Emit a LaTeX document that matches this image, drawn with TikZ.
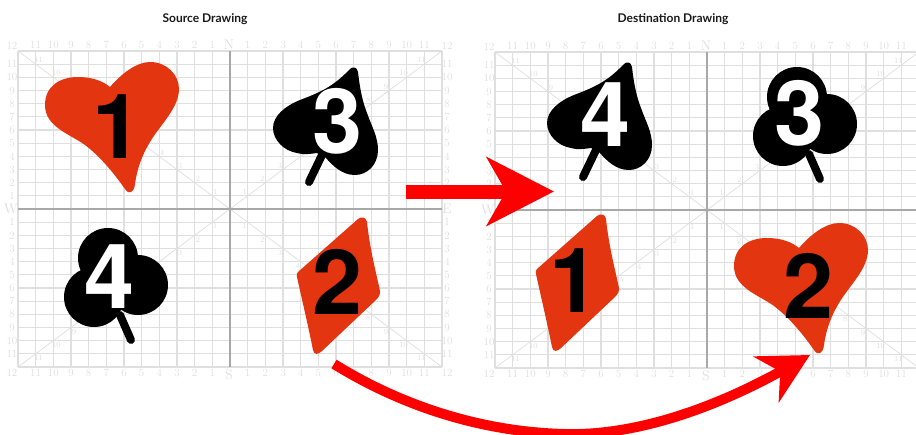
\documentclass[tikz,border=0pt]{standalone}
\usepackage{fontspec}
\usepackage{tikz}
\usetikzlibrary{arrows.meta}
\newfontfamily\digitfont{TeX Gyre Heros}
\newfontfamily\titlefont{Lato}

\definecolor{suitred}{HTML}{E23510}
\definecolor{gridgray}{HTML}{DFDFDF}
\definecolor{axisgray}{HTML}{A8A8A8}
\definecolor{labelgray}{HTML}{DEDEDE}

% Suit outlines, in the coordinates of the source drawing
\newcommand{\heartpath}{(110,87) .. controls (122,73) and (137,62) .. (150,62) .. controls (167,62) and (179,75) .. (179,89) .. controls (179,108) and (160,125) .. (150,142) .. controls (141,157) and (137,170) .. (135,184) .. controls (134,193) and (129,195) .. (125,189) .. controls (115,175) and (102,158) .. (85,145) .. controls (70,134) and (45,127) .. (45,105) .. controls (45,86) and (60,77) .. (78,77) .. controls (92,77) and (103,81) .. (110,87) -- cycle}
\newcommand{\spadepath}{(350,69) .. controls (353,66) and (357,67) .. (358,72) .. controls (360,90) and (363,103) .. (367,113) .. controls (372,127) and (378,137) .. (378,150) .. controls (378,165) and (367,175) .. (355,175) .. controls (342,175) and (333,166) .. (325,157) -- (317,153) .. controls (310,154) and (303,155) .. (297,153) .. controls (284,151) and (273,140) .. (273,128) .. controls (273,116) and (285,106) .. (300,100) .. controls (318,93) and (332,88) .. (350,69) -- cycle}
\newcommand{\diamondpath}{(298,272) -- (358,219) .. controls (362,216) and (366,217) .. (367,222) .. controls (370,250) and (376,272) .. (380,291) .. controls (380,295) and (379,297) .. (377,299) -- (322,351) .. controls (318,355) and (314,355) .. (313,350) .. controls (308,325) and (302,300) .. (297,277) .. controls (296,275) and (297,273) .. (298,272) -- cycle}

% One compass grid with its scales; the lists are the diagonal marks left uncovered
\newcommand{\gridpanel}[6]{%
  \begin{scope}[shift={(#2)}]
    \foreach \i in {-12,...,12} {
      \draw[gridline] ({230+17.67*\i},51) -- ({230+17.67*\i},367);
      \draw[gridline] (18,{209+13.17*\i}) -- (442,{209+13.17*\i});
    }
    \draw[gridline, line width=0.7pt] (18,51) -- (442,367);
    \draw[gridline, line width=0.7pt] (442,51) -- (18,367);
    \draw[axisline] (230,51) -- (230,367);
    \draw[axisline] (18,209) -- (442,209);
    \foreach \i in {1,...,11} {
      \node[scalelabel] (#1tw\i) at ({230-17.67*\i},45) {\i};
      \node[scalelabel] (#1te\i) at ({230+17.67*\i},45) {\i};
      \node[scalelabel] (#1bw\i) at ({230-17.67*\i},373) {\i};
      \node[scalelabel] (#1be\i) at ({230+17.67*\i},373) {\i};
      \node[scalelabel] (#1wn\i) at (12,{209-13.17*\i}) {\i};
      \node[scalelabel] (#1ws\i) at (12,{209+13.17*\i}) {\i};
    }
    \foreach \i in {#3} \node[diaglabel] (#1nw\i) at ({233-17.67*\i},{205-13.17*\i}) {\i};
    \foreach \i in {#4} \node[diaglabel] (#1ne\i) at ({227+17.67*\i},{205-13.17*\i}) {\i};
    \foreach \i in {#5} \node[diaglabel] (#1sw\i) at ({233-17.67*\i},{213+13.17*\i}) {\i};
    \foreach \i in {#6} \node[diaglabel] (#1se\i) at ({227+17.67*\i},{213+13.17*\i}) {\i};
    \node[scalelabel] (#1tl) at (12,46) {12};
    \node[scalelabel] (#1bl) at (12,373) {12};
    \node[compasslabel] (#1N) at (229,45) {N};
    \node[compasslabel] (#1S) at (229,375) {S};
    \node[compasslabel] (#1W) at (11,209) {W};
  \end{scope}
}

\begin{document}
\begin{tikzpicture}[
    x=1pt, y=-1pt,
    gridline/.style={gridgray, line width=1.2pt},
    axisline/.style={axisgray, line width=1.2pt},
    scalelabel/.style={labelgray, inner sep=0pt, font=\fontsize{11}{11}\selectfont},
    diaglabel/.style={labelgray, inner sep=0pt, font=\fontsize{8}{8}\selectfont},
    compasslabel/.style={labelgray, inner sep=0pt, font=\fontsize{14}{14}\selectfont},
    title/.style={inner sep=0pt, black!90, font=\titlefont\bfseries\fontsize{12}{12}\selectfont},
    digit/.style={inner sep=0pt, font=\digitfont\bfseries\fontsize{90}{90}\selectfont},
    stem/.style={line width=8pt, line cap=round, black},
    arr/.style={red, line width=#1}
]
    \useasboundingbox (0,0) rectangle (916,434);
    \clip (0,0) rectangle (916,434);

    % Headers
    \node[title] (srctitle) at (205,19) {Source Drawing};
    \node[title] (dsttitle) at (673,19) {Destination Drawing};

    % Grids
    \gridpanel{s}{0,0}{1,2,3,4,10,11}{1,2,3,8,9,10,11}{1,2,3,9,10,11}{1,2,3,4,8,9,10,11}
    \gridpanel{d}{477,1}{1,2,3,9,10,11}{1,2,3,9,10,11}{1,2,3,4,5,10,11}{1,2,8,9,10,11}
    \foreach \i in {1,...,11} {
      \node[scalelabel] (sen\i) at (447,{209-13.17*\i}) {\i};
      \node[scalelabel] (ses\i) at (447,{209+13.17*\i}) {\i};
    }
    \node[scalelabel] (str) at (447,46) {12};
    \node[scalelabel] (sbr) at (447,373) {12};
    \node[compasslabel] (sE) at (447,209) {E};

    % Source suits
    \fill[suitred] \heartpath;
    \node[digit] (s1) at (118,127) {1};
    \draw[stem] (322,155) -- (309,182);
    \fill[black] \spadepath;
    \node[digit, white] (s3) at (338,121) {3};
    \draw[stem] (120,315) -- (131,340);
    \fill[black] (108,258) circle (30) (138,285) circle (30) (94,297) circle (30) (115,280) circle (20);
    \node[digit, white] (s4) at (110,277) {4};
    \fill[suitred] \diamondpath;
    \node[digit] (s2) at (338,282) {2};

    % Destination suits
    \begin{scope}[shift={(274,-5)}]
      \draw[stem] (322,155) -- (309,182);
      \fill[black] \spadepath;
    \end{scope}
    \node[digit, white] (d4) at (606,115) {4};
    \begin{scope}[shift={(689,-161)}]
      \draw[stem] (120,315) -- (131,340);
      \fill[black] (108,258) circle (30) (138,285) circle (30) (94,297) circle (30) (115,280) circle (20);
    \end{scope}
    \node[digit, white] (d3) at (800,113) {3};
    \begin{scope}[shift={(239,-3)}]
      \fill[suitred] \diamondpath;
    \end{scope}
    \node[digit] (d1) at (575,281) {1};
    \begin{scope}[shift={(689,161)}]
      \fill[suitred] \heartpath;
    \end{scope}
    \node[digit] (d2) at (809,286) {2};

    % Arrows
    \coordinate (movestart) at (406,191.5);
    \coordinate (moveend) at (554,191.5);
    \draw[arr=14pt, -{Stealth[length=67pt, width=68pt, inset=19pt]}] (movestart) -- (moveend);
    \coordinate (swapstart) at (334,364);
    \coordinate (swapbottom) at (565,434);
    \coordinate (swapend) at (810,355);
    \draw[arr=10pt, -{Stealth[length=50pt, width=52pt, inset=16pt]}] (swapstart) .. controls (400,405) and (480,432) .. (swapbottom) .. controls (640,436) and (720,405) .. (swapend);
\end{tikzpicture}
\end{document}
